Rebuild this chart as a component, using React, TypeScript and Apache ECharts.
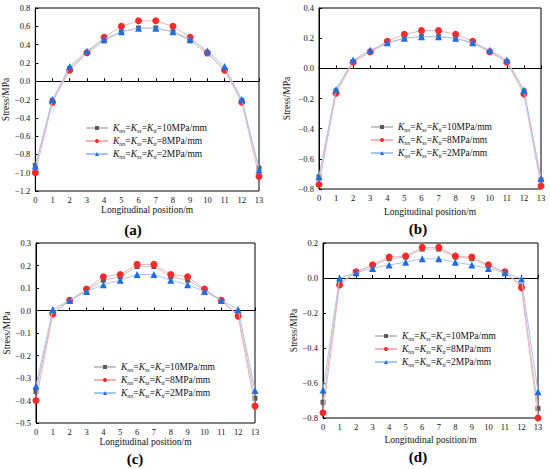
import React, { useEffect, useRef } from "react";
import * as echarts from "echarts";

const positions = [0, 1, 2, 3, 4, 5, 6, 7, 8, 9, 10, 11, 12, 13];

const a10 = [-0.92, -0.21, 0.14, 0.31, 0.44, 0.54, 0.58, 0.58, 0.54, 0.44, 0.30, 0.13, -0.21, -0.95];
const a8 = [-1.0, -0.23, 0.12, 0.31, 0.48, 0.60, 0.66, 0.66, 0.60, 0.48, 0.31, 0.12, -0.23, -1.04];
const a2 = [-0.93, -0.20, 0.16, 0.33, 0.46, 0.54, 0.58, 0.58, 0.54, 0.46, 0.33, 0.16, -0.20, -0.97];

const b10 = [-0.72, -0.15, 0.045, 0.11, 0.165, 0.20, 0.21, 0.21, 0.20, 0.165, 0.11, 0.045, -0.15, -0.74];
const b8 = [-0.77, -0.165, 0.04, 0.11, 0.18, 0.225, 0.25, 0.25, 0.225, 0.18, 0.11, 0.04, -0.17, -0.78];
const b2 = [-0.72, -0.14, 0.055, 0.12, 0.17, 0.20, 0.21, 0.21, 0.20, 0.17, 0.12, 0.055, -0.145, -0.73];

const c10 = [-0.36, -0.01, 0.045, 0.09, 0.135, 0.15, 0.195, 0.195, 0.15, 0.135, 0.09, 0.045, -0.02, -0.39];
const c8 = [-0.40, -0.015, 0.045, 0.095, 0.15, 0.16, 0.205, 0.205, 0.16, 0.15, 0.095, 0.045, -0.025, -0.425];
const c2 = [-0.335, 0.005, 0.045, 0.085, 0.115, 0.135, 0.16, 0.16, 0.135, 0.115, 0.085, 0.045, 0.005, -0.355];

const d10 = [-0.71, -0.03, 0.035, 0.07, 0.11, 0.12, 0.165, 0.165, 0.12, 0.11, 0.07, 0.035, -0.045, -0.745];
const d8 = [-0.77, -0.04, 0.035, 0.075, 0.12, 0.125, 0.175, 0.175, 0.125, 0.12, 0.075, 0.035, -0.055, -0.80];
const d2 = [-0.64, 0.0, 0.03, 0.055, 0.075, 0.09, 0.11, 0.11, 0.09, 0.075, 0.055, 0.03, -0.005, -0.65];

const legendLabels = ["10MPa/mm", "8MPa/mm", "2MPa/mm"];
const panelLabels = ["(a)", "(b)", "(c)", "(d)"];
const yRanges = [
  { min: -1.2, max: 0.8, interval: 0.2 },
  { min: -0.8, max: 0.4, interval: 0.2 },
  { min: -0.5, max: 0.3, interval: 0.1 },
  { min: -0.8, max: 0.2, interval: 0.2 },
];
const panelData = [
  [a10, a8, a2],
  [b10, b8, b2],
  [c10, c8, c2],
  [d10, d8, d2],
];

const SERIF = "Liberation Serif";

const grids = [
  { left: 33, top: 8, width: 226, height: 183 },
  { left: 319, top: 8, width: 222, height: 181 },
  { left: 36, top: 243, width: 219, height: 180 },
  { left: 323, top: 243, width: 215, height: 175 },
];
const yNameGaps = [20, 27, 21, 20];
const xNameGaps = [14, 18, 13, 17];
const legendPos = [
  { left: 80, top: 118 },
  { left: 365, top: 117 },
  { left: 88, top: 357 },
  { left: 369, top: 326 },
];
const titlePos = [
  { x: 133, y: 230 },
  { x: 418, y: 229 },
  { x: 135, y: 459 },
  { x: 418, y: 457 },
];

const styles = [
  { symbol: "rect", marker: "#5a5a5a", line: "#c4c4c4", size: 5 },
  { symbol: "circle", marker: "#ff2a2a", line: "#f8b2b2", size: 7 },
  { symbol: "triangle", marker: "#1f6ee0", line: "#a6c7ef", size: 7 },
];

export default function App() {
  const ref = useRef<HTMLDivElement>(null);
  useEffect(() => {
    if (!ref.current) return;
    const chart = echarts.init(ref.current, undefined, { renderer: "svg" });
    const fmtY = (v: number) => v.toFixed(1).replace("-", "\u2212");
    const series: any[] = [];
    const legends: any[] = [];
    const nameMap: Record<string, string> = {};
    panelData.forEach((set, p) => {
      const names: string[] = [];
      set.forEach((vals, s) => {
        const name = `p${p}s${s}`;
        nameMap[name] = legendLabels[s];
        names.push(name);
        const st = styles[s];
        series.push({
          name,
          type: "line",
          xAxisIndex: p,
          yAxisIndex: p,
          data: positions.map((x, i) => [x, vals[i]]),
          symbol: st.symbol,
          symbolSize: st.size,
          showAllSymbol: true,
          itemStyle: { color: st.marker },
          lineStyle: { color: st.line, width: 1 },
          z: 2 + s,
        });
      });
      legends.push({
        orient: "vertical",
        left: legendPos[p].left,
        top: legendPos[p].top,
        data: names,
        itemWidth: 22,
        itemHeight: 5,
        itemGap: 2,
        selectedMode: false,
        formatter: (n: string) =>
          `{k|K}{s|nn}{t|=}{k|K}{s|ss}{t|=}{k|K}{s|tt}{t|=${nameMap[n]}}`,
        textStyle: {
          fontFamily: SERIF,
          fontSize: 9.5,
          color: "#111",
          rich: {
            k: { fontFamily: SERIF, fontSize: 9.5, fontStyle: "italic", color: "#111", lineHeight: 12 },
            s: {
              fontFamily: SERIF,
              fontSize: 6,
              fontStyle: "italic",
              color: "#111",
              lineHeight: 6,
              verticalAlign: "bottom",
            },
            t: { fontFamily: SERIF, fontSize: 9.5, color: "#111", lineHeight: 12 },
          },
        },
      });
    });

    const option: any = {
      animation: false,
      backgroundColor: "#fff",
      textStyle: { fontFamily: SERIF },
      grid: grids.map((g) => ({ ...g, show: true, borderColor: "#000", borderWidth: 1, backgroundColor: "transparent" })),
      xAxis: grids.map((_, p) => ({
        type: "value",
        gridIndex: p,
        min: 0,
        max: 13,
        interval: 1,
        name: "Longitudinal position/m",
        nameLocation: "middle",
        nameGap: xNameGaps[p],
        nameTextStyle: { fontFamily: SERIF, fontSize: 9.5, color: "#111", fontWeight: "normal" },
        axisLine: { show: true, lineStyle: { color: "#000", width: 1 } },
        axisTick: { show: true, inside: true, length: 3, lineStyle: { color: "#000" } },
        axisLabel: { fontFamily: SERIF, fontSize: 8.5, color: "#111", margin: 4 },
        splitLine: { show: false },
      })),
      yAxis: yRanges.map((r, p) => ({
        type: "value",
        gridIndex: p,
        min: r.min,
        max: r.max,
        interval: r.interval,
        name: "Stress/MPa",
        nameLocation: "middle",
        nameGap: yNameGaps[p],
        nameTextStyle: { fontFamily: SERIF, fontSize: 9.5, color: "#111", fontWeight: "normal" },
        axisLine: { show: true, lineStyle: { color: "#000", width: 1 } },
        axisTick: { show: true, inside: true, length: 3, lineStyle: { color: "#000" } },
        axisLabel: { fontFamily: SERIF, fontSize: 8.5, color: "#111", margin: 5, formatter: fmtY },
        splitLine: { show: false },
      })),
      legend: legends,
      series,
      graphic: panelLabels.map((t, p) => ({
        type: "text",
        x: titlePos[p].x,
        y: titlePos[p].y,
        style: {
          text: t,
          fontFamily: SERIF,
          fontSize: 15,
          fontWeight: "bold",
          fill: "#000",
          textAlign: "center",
          textVerticalAlign: "middle",
        },
      })),
    };
    chart.setOption(option);
    return () => chart.dispose();
  }, []);
  return (
    <div
      ref={ref}
      style={{ position: "absolute", left: 0, top: 0, width: 550, height: 469 }}
    />
  );
}
